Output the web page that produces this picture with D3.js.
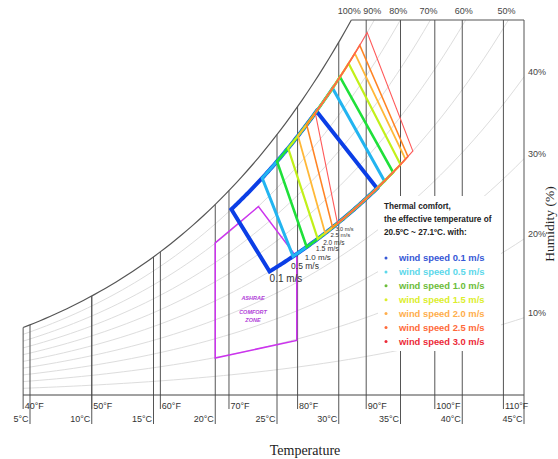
<!DOCTYPE html>
<html>
<head>
<meta charset="utf-8">
<title>Thermal comfort - psychrometric chart</title>
<script src="https://d3js.org/d3.v7.min.js"></script>
<style>
  body { margin: 0; background: #fff; }
  text { font-family: "Liberation Sans", Arial, sans-serif; }
</style>
</head>
<body>
<div id="chart"></div>
<script>
// grid: temperature lines and relative humidity lines
var tempC = [5, 10, 15, 20, 25, 30, 35, 40, 45]
var tempF = [40, 50, 60, 70, 80, 90, 100, 110]
var rhLevels = [10, 20, 30, 40, 50, 60, 70, 80, 90]
var rhTopLabels = [100, 90, 80, 70, 60, 50]
var rhRightLabels = [10, 20, 30, 40]

// wind speed comfort zones, corner temperatures (°C)
// left edge = ET 20.5°C, right edge = ET 27.1°C, top on 90% RH, bottom on 50% RH
var windSpeeds  = ["0.1", "0.5", "1.0", "1.5", "2.0", "2.5", "3.0"]
var leftTop     = [21.3, 23.8, 25.0, 25.9, 26.7, 27.4, 28.1]
var leftBottom  = [24.4, 26.3, 27.4, 28.3, 28.9, 29.5, 29.9]
var rightTop    = [28.2, 29.5, 30.1, 30.8, 31.3, 31.7, 32.3]
var rightBottom = [33.1, 33.7, 34.4, 35.0, 35.4, 35.6, 36.0]
var zoneTopRH = 90, zoneBottomRH = 50

// ASHRAE comfort zone corners: temperature (°C), humidity ratio (g/kg)
var ashraeT = [20.0, 23.5, 26.6, 26.6, 20.0]
var ashraeW = [11.7, 14.5, 10.6, 4.2, 2.85]

// styles
var zoneColors  = ["#0b3ee6", "#22b4f0", "#1fe03a", "#c2f01a", "#ffb838", "#ff8424", "#ff5a5a"]
var zoneWidths  = [4, 3, 2.6, 2.2, 1.8, 1.6, 1.1]
var legendColors = ["#3658d6", "#5cd8ea", "#6cbd3a", "#dcee2c", "#ffae4c", "#ff6a3a", "#ec2a38"]
var labelSizes  = [10, 8.5, 8, 7, 6.5, 6, 5.5]
var labelDy     = [11, 13, 13, 12, 12, 10, 8]

var width = 558, height = 459
var x = d3.scaleLinear().domain([5, 45]).range([30, 524])
var y = d3.scaleLinear().domain([0, 28.85]).range([395, 20])
var wTop = y.domain()[1]
var tLeft = (40 - 32) * 5 / 9

function psat(t) { return 0.61094 * Math.exp(17.625 * t / (t + 243.04)) }
function hum(t, rh) { var pv = rh / 100 * psat(t); return 622 * pv / (101.325 - pv) }
function fToC(f) { return (f - 32) * 5 / 9 }
// temperature where an RH line reaches the top of the chart
function tAtTop(rh) {
    var lo = 0, hi = 80
    for (var i = 0; i < 60; i++) {
        var mid = (lo + hi) / 2
        if (hum(mid, rh) < wTop) lo = mid; else hi = mid
    }
    return lo
}
function rhLine(rh, t0, t1) {
    var pts = [], n = 60
    for (var i = 0; i <= n; i++) {
        var t = t0 + (t1 - t0) * i / n
        pts.push([t, hum(t, rh)])
    }
    return pts
}

var line = d3.line().x(function(d) { return x(d[0]) }).y(function(d) { return y(d[1]) })

var svg = d3.select("#chart").append("svg")
    .attr("width", width)
    .attr("height", height)

// light RH curves
rhLevels.forEach(function(rh) {
    var tEnd = Math.min(45, tAtTop(rh))
    svg.append("path")
        .attr("d", line(rhLine(rh, tLeft, tEnd)))
        .attr("fill", "none")
        .attr("stroke", "#dddddd")
        .attr("stroke-width", 1)
})

// vertical temperature lines with ticks
function vline(t, tickEnd) {
    var top = Math.max(y(wTop), y(hum(t, 100)))
    svg.append("line")
        .attr("x1", x(t)).attr("x2", x(t))
        .attr("y1", tickEnd).attr("y2", top)
        .attr("stroke", "#555").attr("stroke-width", 1)
}
tempF.forEach(function(f) { vline(fToC(f), 409) })
tempC.forEach(function(c) { vline(c, 424) })

// baseline
svg.append("line")
    .attr("x1", x(tLeft)).attr("x2", x(45))
    .attr("y1", y(0)).attr("y2", y(0))
    .attr("stroke", "#444").attr("stroke-width", 1)

// saturation curve and top line
var tSat = tAtTop(100)
svg.append("path")
    .attr("d", line(rhLine(100, tLeft, tSat)))
    .attr("fill", "none").attr("stroke", "#555").attr("stroke-width", 1.2)
svg.append("line")
    .attr("x1", x(tSat)).attr("x2", x(45))
    .attr("y1", y(wTop)).attr("y2", y(wTop))
    .attr("stroke", "#555").attr("stroke-width", 1)

// axis labels
svg.selectAll(".flab").data(tempF).enter().append("text")
    .attr("x", function(d) { return x(fToC(d)) + 1.5 })
    .attr("y", 409)
    .attr("font-size", 9).attr("fill", "#333")
    .text(function(d) { return d + "°F" })
svg.selectAll(".clab").data(tempC).enter().append("text")
    .attr("x", function(d) { return x(d) - 1.5 })
    .attr("y", 422)
    .attr("text-anchor", "end")
    .attr("font-size", 9).attr("fill", "#333")
    .text(function(d) { return d + "°C" })
svg.selectAll(".rtop").data(rhTopLabels).enter().append("text")
    .attr("x", function(d) { return x(tAtTop(d)) - 2 })
    .attr("y", 14)
    .attr("text-anchor", "middle")
    .attr("font-size", 9).attr("fill", "#444")
    .text(function(d) { return d + "%" })
svg.selectAll(".rright").data(rhRightLabels).enter().append("text")
    .attr("x", x(45) + 4)
    .attr("y", function(d) { return y(hum(45, d)) - 2 })
    .attr("font-size", 9).attr("fill", "#444")
    .text(function(d) { return d + "%" })

svg.append("text")
    .attr("x", 305).attr("y", 455)
    .attr("text-anchor", "middle")
    .style("font-family", "'Liberation Serif', 'Times New Roman', serif")
    .attr("font-size", 14).attr("fill", "#222")
    .text("Temperature")
svg.append("text")
    .attr("transform", "translate(554,224) rotate(-90)")
    .attr("text-anchor", "middle")
    .style("font-family", "'Liberation Serif', 'Times New Roman', serif")
    .attr("font-size", 13.5).attr("fill", "#222")
    .text("Humidity (%)")

// legend background hides the grid
svg.append("rect")
    .attr("x", 378).attr("y", 196)
    .attr("width", 123).attr("height", 155)
    .attr("fill", "#fff")

// ASHRAE comfort zone
var ashrae = ashraeT.map(function(t, i) { return [t, ashraeW[i]] })
svg.append("path")
    .attr("d", line(ashrae) + "Z")
    .attr("fill", "none")
    .attr("stroke", "#cc33ee").attr("stroke-width", 1.5)
var ashraeText = ["ASHRAE", "COMFORT", "ZONE"]
var ashraeY = [300, 314, 322]
ashraeText.forEach(function(s, i) {
    svg.append("text")
        .attr("x", 253).attr("y", ashraeY[i])
        .attr("text-anchor", "middle")
        .attr("font-size", 5.5).attr("font-style", "italic").attr("font-weight", "bold")
        .attr("fill", "#b040d8")
        .text(s)
})

// wind speed zones
windSpeeds.forEach(function(ws, i) {
    var pts = [[leftTop[i], hum(leftTop[i], zoneTopRH)]]
        .concat(rhLine(zoneBottomRH, leftBottom[i], rightBottom[i]))
        .concat(rhLine(zoneTopRH, rightTop[i], leftTop[i]))
    svg.append("path")
        .attr("d", line(pts) + "Z")
        .attr("fill", "none")
        .attr("stroke", zoneColors[i])
        .attr("stroke-width", zoneWidths[i])
        .attr("stroke-linejoin", "miter")
})
windSpeeds.forEach(function(ws, i) {
    svg.append("text")
        .attr("x", x(leftBottom[i]) - (i == 0 ? 0 : 2))
        .attr("y", y(hum(leftBottom[i], zoneBottomRH)) + labelDy[i])
        .attr("font-size", labelSizes[i]).attr("fill", "#333")
        .text(ws + " m/s")
})

// legend
var legendTitle = ["Thermal comfort,", "the effective temperature of", "20.5ºC ~ 27.1ºC. with:"]
legendTitle.forEach(function(s, i) {
    svg.append("text")
        .attr("x", 384).attr("y", 209 + i * 13)
        .attr("font-size", 8.2).attr("font-weight", "bold").attr("fill", "#222")
        .text(s)
})
windSpeeds.forEach(function(ws, i) {
    var cy = 258 + i * 13.9
    svg.append("circle")
        .attr("cx", 386).attr("cy", cy).attr("r", 1.5)
        .attr("fill", legendColors[i])
    svg.append("text")
        .attr("x", 399).attr("y", cy + 3.3)
        .attr("font-size", 9.4).attr("font-weight", "bold")
        .attr("fill", legendColors[i])
        .text("wind speed " + ws + " m/s")
})
</script>
</body>
</html>
